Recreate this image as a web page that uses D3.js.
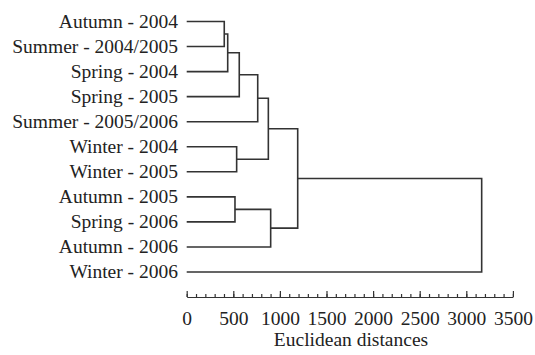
<!DOCTYPE html>
<html>
<head>
<meta charset="utf-8">
<script src="https://cdn.jsdelivr.net/npm/d3@7"></script>
<style>
  body { margin: 0; background: #fff; }
  svg text { font-family: "Liberation Serif", "Times New Roman", serif; fill: #222; }
</style>
</head>
<body>
<svg id="chart" width="535" height="355"></svg>
<script>
// leaves, top to bottom
const leaves = [
  "Autumn - 2004", "Summer - 2004/2005", "Spring - 2004", "Spring - 2005",
  "Summer - 2005/2006", "Winter - 2004", "Winter - 2005", "Autumn - 2005",
  "Spring - 2006", "Autumn - 2006", "Winter - 2006"
];

// merges: [left, right, distance]; ids < 11 are leaves, 11+ are earlier merges
const mergeLeft  = [0, 11, 12, 13, 5, 14, 7, 17, 16, 19];
const mergeRight = [1, 2, 3, 4, 6, 15, 8, 9, 18, 10];
const mergeDist  = [403, 440, 564, 762, 536, 876, 518, 901, 1191, 3165];

const majorTicks = [0, 500, 1000, 1500, 2000, 2500, 3000, 3500];
const minorTicks = d3.range(0, 3501, 100);

const svg = d3.select("#chart");
const x = d3.scaleLinear().domain([0, 3500]).range([186.7, 512.9]);
const y = d3.scalePoint().domain(leaves).range([21.5, 272]);

// node positions: leaves at 0, merges at their distance
const nodes = leaves.map(name => ({ x: x(0), y: y(name) }));
mergeDist.forEach((d, i) => {
  const a = nodes[mergeLeft[i]], b = nodes[mergeRight[i]];
  nodes.push({ x: x(d), y: (a.y + b.y) / 2, a, b });
});

const g = svg.append("g")
  .attr("fill", "none")
  .attr("stroke", "#333")
  .attr("stroke-width", 1.6);

g.selectAll("path")
  .data(nodes.filter(n => n.a))
  .join("path")
  .attr("d", n => `M${n.a.x},${n.a.y}H${n.x}V${n.b.y}H${n.b.x}`);

// leaf labels
svg.append("g").selectAll("text")
  .data(leaves)
  .join("text")
  .attr("x", 178)
  .attr("y", d => y(d))
  .attr("dy", "0.33em")
  .attr("text-anchor", "end")
  .style("font-size", "19.5px")
  .text(d => d);

// axis
const axisY = 297;
const minorAxis = svg.append("g")
  .attr("transform", `translate(0,${axisY})`)
  .call(d3.axisBottom(x).tickValues(minorTicks).tickSize(-3).tickSizeOuter(0).tickFormat(""));
minorAxis.selectAll("line, path").attr("stroke", "#333").attr("stroke-width", 1.2);

const majorAxis = svg.append("g")
  .attr("transform", `translate(0,${axisY})`)
  .call(d3.axisBottom(x).tickValues(majorTicks).tickSize(-6).tickSizeOuter(0)
    .tickPadding(14).tickFormat(d3.format("d")));
majorAxis.select(".domain").remove();
majorAxis.selectAll("line").attr("stroke", "#333").attr("stroke-width", 1.2);
majorAxis.selectAll("text")
  .style("font-size", "19.5px")
  .attr("fill", "#222");

svg.append("text")
  .attr("x", 351)
  .attr("y", 346)
  .attr("text-anchor", "middle")
  .style("font-size", "19.5px")
  .text("Euclidean distances");
</script>
</body>
</html>
